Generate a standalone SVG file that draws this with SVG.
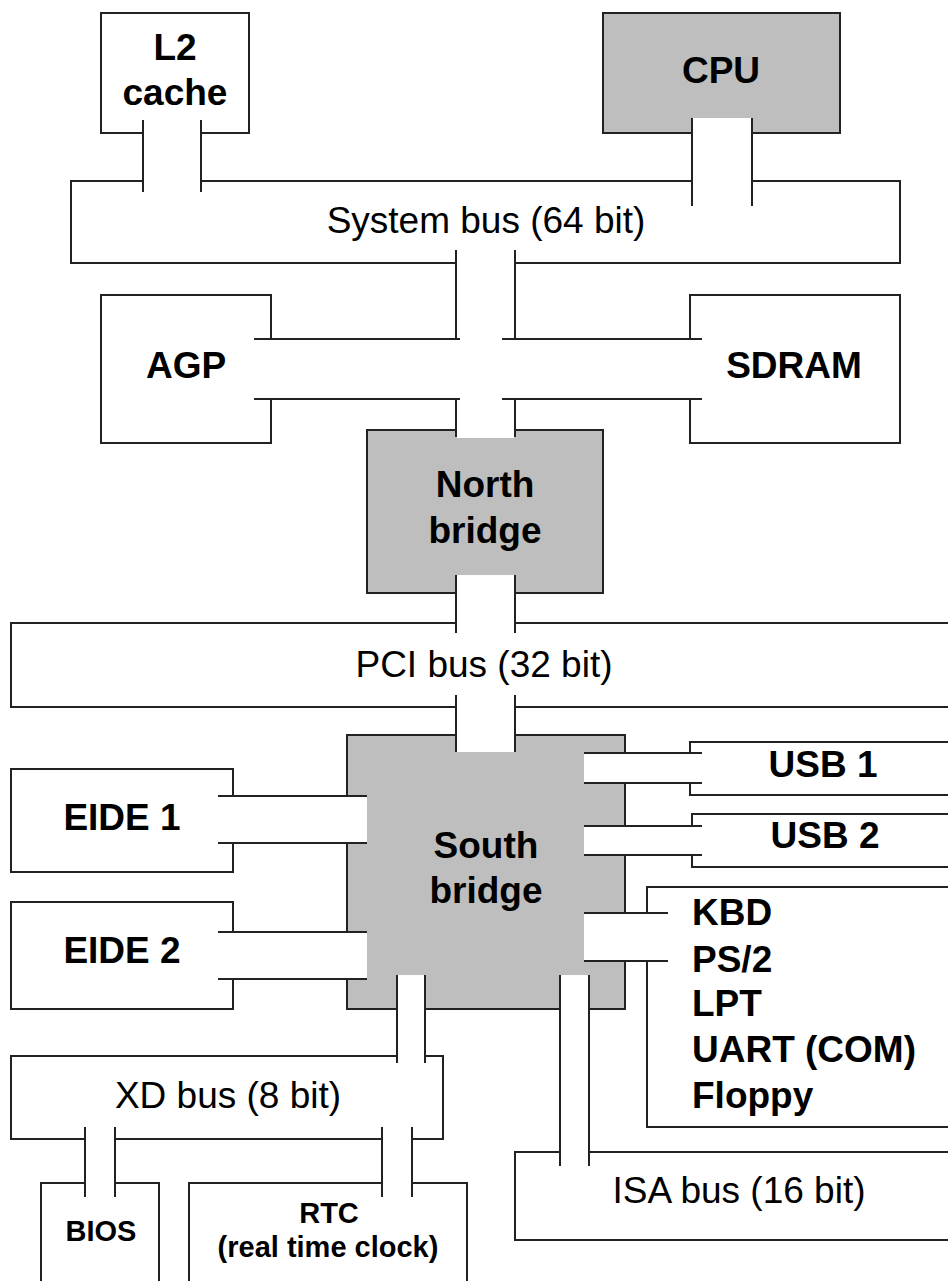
<svg xmlns="http://www.w3.org/2000/svg" width="948" height="1281" viewBox="0 0 948 1281">
<style>
.box{fill:#fff;stroke:#222;stroke-width:2}
.chip{fill:#bebebe;stroke:#222;stroke-width:2}
.lbl{font-family:"Liberation Sans",Arial,sans-serif;font-weight:bold;font-size:37px;fill:#000;text-anchor:middle}
.bus{font-family:"Liberation Sans",Arial,sans-serif;font-size:37px;fill:#000;text-anchor:middle}
.sm{font-family:"Liberation Sans",Arial,sans-serif;font-weight:bold;font-size:29px;fill:#000;text-anchor:middle}
.left{text-anchor:start}
.gap{fill:#fff;stroke:none}
.ln{stroke:#222;stroke-width:2;fill:none}
</style>
<rect width="948" height="1281" fill="#fff"/>
<g id="l2cache"><rect class="box" x="101" y="13" width="148" height="120"/><text class="lbl" x="175" y="60">L2</text><text class="lbl" x="175" y="105">cache</text></g>
<g id="cpu"><rect class="chip" x="603" y="13" width="237" height="120"/><text class="lbl" x="721" y="83">CPU</text></g>
<g id="systembus"><rect class="box" x="71" y="181" width="829" height="82"/><text class="bus" x="486" y="233">System bus (64 bit)</text></g>
<g id="agp"><rect class="box" x="101" y="295" width="170" height="148"/><text class="lbl" x="186" y="378">AGP</text></g>
<g id="sdram"><rect class="box" x="690" y="295" width="210" height="148"/><text class="lbl" x="794" y="378">SDRAM</text></g>
<g id="northbridge"><rect class="chip" x="367" y="430" width="236" height="163"/><text class="lbl" x="485" y="497">North</text><text class="lbl" x="485" y="543">bridge</text></g>
<g id="pcibus"><rect class="box" x="11" y="623" width="960" height="84"/><text class="bus" x="484" y="677">PCI bus (32 bit)</text></g>
<g id="southbridge"><rect class="chip" x="347" y="735" width="278" height="274"/><text class="lbl" x="486" y="858">South</text><text class="lbl" x="486" y="903">bridge</text></g>
<g id="eide1"><rect class="box" x="11" y="769" width="222" height="103"/><text class="lbl" x="122" y="830">EIDE 1</text></g>
<g id="eide2"><rect class="box" x="11" y="902" width="222" height="107"/><text class="lbl" x="122" y="963">EIDE 2</text></g>
<g id="usb1"><rect class="box" x="690" y="742" width="280" height="53"/><text class="lbl" x="823" y="777">USB 1</text></g>
<g id="usb2"><rect class="box" x="692" y="814" width="280" height="53"/><text class="lbl" x="825" y="848">USB 2</text></g>
<g id="superio"><rect class="box" x="647" y="887" width="320" height="240"/>
<text class="lbl left" x="692" y="925">KBD</text><text class="lbl left" x="692" y="972">PS/2</text><text class="lbl left" x="692" y="1016">LPT</text><text class="lbl left" x="692" y="1062">UART (COM)</text><text class="lbl left" x="692" y="1108">Floppy</text></g>
<g id="xdbus"><rect class="box" x="11" y="1056" width="432" height="83"/><text class="bus" x="228" y="1108">XD bus (8 bit)</text></g>
<g id="isabus"><rect class="box" x="515" y="1152" width="460" height="88"/><text class="bus" x="739" y="1203">ISA bus (16 bit)</text></g>
<g id="bios"><rect class="box" x="41" y="1183" width="118" height="120"/><text class="sm" x="101" y="1241">BIOS</text></g>
<g id="rtc"><rect class="box" x="189" y="1183" width="278" height="120"/><text class="sm" x="329" y="1223">RTC</text><text class="sm" x="328" y="1257">(real time clock)</text></g>
<g id="connectors">
<rect class="gap" x="144" y="121" width="56" height="70"/>
<path class="ln" d="M143 120V192M201 120V192"/>
<rect class="gap" x="693" y="118" width="58" height="88"/>
<path class="ln" d="M692 118V206M752 118V206"/>
<rect class="gap" x="457" y="252" width="57" height="186"/>
<rect class="gap" x="256" y="340" width="444" height="58"/>
<path class="ln" d="M456 250V339M515 250V339M456 399V437M515 399V437M254 339H460M502 339H702M254 399H460M502 399H702"/>
<rect class="gap" x="457" y="575" width="57" height="58"/>
<rect class="gap" x="457" y="695" width="57" height="57"/>
<path class="ln" d="M456 575V633M515 575V633M456 695V752M515 695V752"/>
<rect class="gap" x="584" y="754" width="117" height="28"/>
<path class="ln" d="M584 753H702M584 783H702"/>
<rect class="gap" x="584" y="827" width="117" height="27"/>
<path class="ln" d="M584 826H702M584 855H702"/>
<rect class="gap" x="584" y="914" width="83" height="46"/>
<path class="ln" d="M584 913H668M584 961H668"/>
<rect class="gap" x="219" y="797" width="148" height="45"/>
<path class="ln" d="M218 796H367M218 843H367"/>
<rect class="gap" x="219" y="933" width="148" height="45"/>
<path class="ln" d="M218 932H367M218 979H367"/>
<rect class="gap" x="398" y="975" width="26" height="88"/>
<path class="ln" d="M397 975V1063M425 975V1063"/>
<rect class="gap" x="561" y="975" width="27" height="191"/>
<path class="ln" d="M560 975V1166M589 975V1166"/>
<rect class="gap" x="86" y="1128" width="28" height="68"/>
<path class="ln" d="M85 1127V1197M115 1127V1197"/>
<rect class="gap" x="383" y="1128" width="28" height="68"/>
<path class="ln" d="M382 1127V1197M412 1127V1197"/>
</g>
</svg>
